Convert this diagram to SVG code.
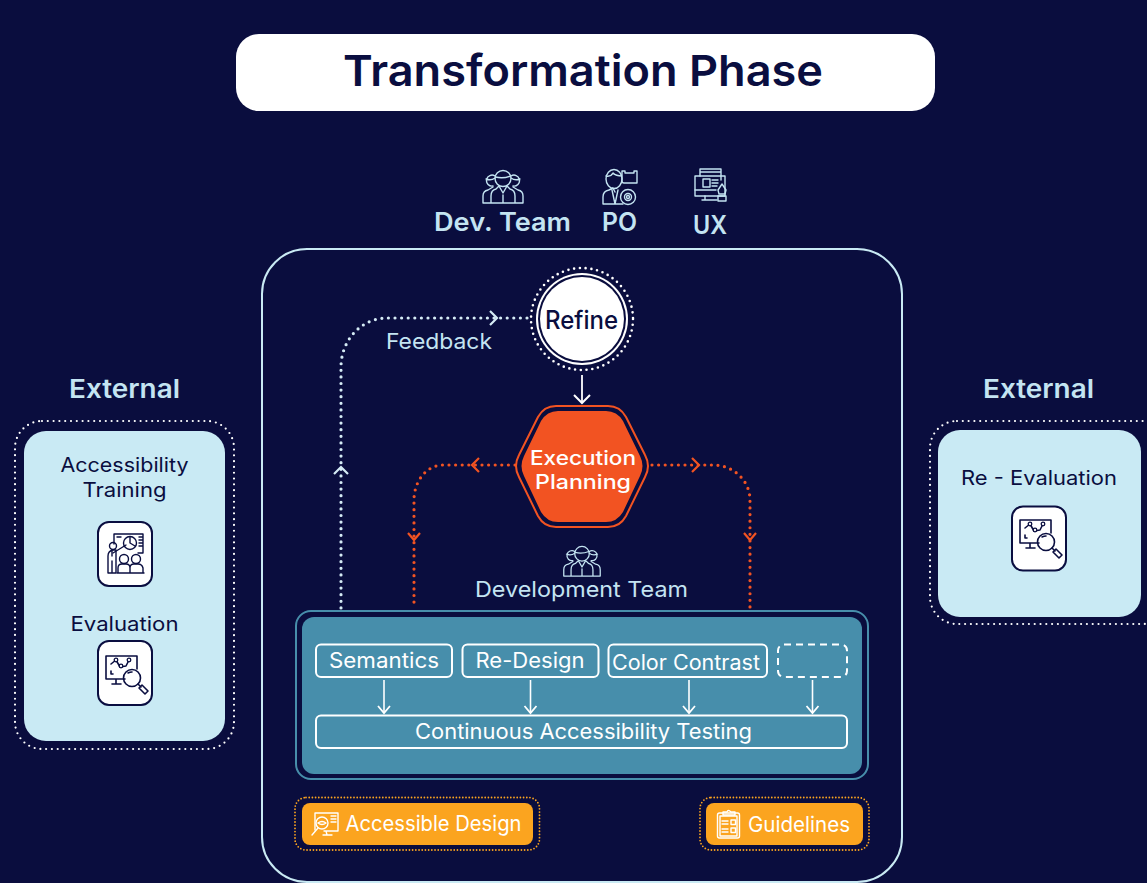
<svg xmlns="http://www.w3.org/2000/svg" width="1147" height="883" viewBox="0 0 1147 883">
<style>
text{font-family:"Inter","Noto Sans","Liberation Sans",sans-serif;text-anchor:middle;font-weight:500}
.lb{fill:#c4e4f2}.nv{fill:#0a0e40}.wh{fill:#fff}.sb{font-weight:600}.rg{font-weight:400}
.dotw{fill:none;stroke:#fff;stroke-width:2.6;stroke-linecap:round;stroke-dasharray:0 5.8}
.dotf{fill:none;stroke:#d5ebf5;stroke-width:3.2;stroke-linecap:round;stroke-dasharray:0 6.6}
.doto{fill:none;stroke:#f25322;stroke-width:3.2;stroke-linecap:round;stroke-dasharray:0 6.6}
.doty{fill:none;stroke:#fba41f;stroke-width:1.8;stroke-linecap:round;stroke-dasharray:0 3.2}
.chf{fill:none;stroke:#d5ebf5;stroke-width:2.2}.cho{fill:none;stroke:#f25322;stroke-width:2.2}
.sol{fill:none;stroke:#fff;stroke-width:1.6}
.bx{fill:none;stroke:#fff;stroke-width:2}
.tile{fill:#fff;stroke:#0a0e40;stroke-width:2}
.ic{fill:none;stroke-width:1.4;stroke-linecap:round;stroke-linejoin:round}
.icl{stroke:#c4e4f2}.icn{stroke:#0a0e40}.icw{stroke:#fff}
</style>
<defs>
<marker id="ah" markerUnits="userSpaceOnUse" markerWidth="20" markerHeight="16" refX="10" refY="8" orient="auto"><path d="M3 2L10 8L3 14" fill="none" stroke="#fff" stroke-width="1.8"/></marker>
<marker id="ahb" markerUnits="userSpaceOnUse" markerWidth="20" markerHeight="20" refX="10" refY="10" orient="auto"><path d="M2 2L10 10L2 18" fill="none" stroke="#fff" stroke-width="2"/></marker>
<symbol id="team" viewBox="0 0 42 34" overflow="visible">
<g fill="none" stroke-width="1.4" stroke-linecap="round" stroke-linejoin="round">
<circle cx="21" cy="8.500" r="8"/><path d="M13.500 7q7.500 2 15-1"/>
<path d="M13 6a5.500 5.500 0 1 0-2 10M29 6a5.500 5.500 0 1 1 2 10M4 9q5 2 9-1M38 9q-5 2-9-1"/>
<path d="M1 33v-7q0-5 5-6l5-3M41 33v-7q0-5-5-6l-5-3M9 33v-7q0-6 5-7l3-3 4 7 4-7 3 3q5 1 5 7v7zM21 25v8M1 33h8M33 33h8"/>
</g></symbol>
<symbol id="evalic" viewBox="0 0 38 38" overflow="visible">
<g fill="none" stroke="#0a0e40" stroke-width="1.6" stroke-linecap="round" stroke-linejoin="round">
<path d="M19 23H0V0h31v13M10 23v5M6 28h9"/><circle cx="26" cy="22" r="8.500"/><path d="M32 28l3 3M33 32l3-3 6 6-3 3zM22 17q2-1 4-1"/>
<path d="M5 8l5-4 4 7 6-1 3-6M5 15v3h2"/>
</g><g fill="#fff" stroke="#0a0e40" stroke-width="1.300"><circle cx="10" cy="4" r="1.800"/><circle cx="15" cy="10" r="1.800"/><circle cx="23" cy="4" r="1.800"/></g></symbol>
</defs>
<rect width="1147" height="883" fill="#0a0d3e"/>

<g id="title"><rect x="236" y="34" width="699" height="77" rx="23" fill="#fff"/>
<text class="nv" x="583" y="86" font-size="43" style="font-weight:600" textLength="480" lengthAdjust="spacingAndGlyphs">Transformation Phase</text></g>

<g id="roles">
<use href="#team" x="482" y="170" width="42" height="34" stroke="#c4e4f2"/>
<text class="lb sb" x="502.500" y="231" font-size="25" textLength="137" lengthAdjust="spacingAndGlyphs">Dev. Team</text>
<g class="ic icl"><ellipse cx="614" cy="179" rx="8" ry="9.500"/><path d="M606 176q5 1 7-3 3 3 9 3M603 204v-7q0-6 6-7l4-2 2 4M603 204h20M612 190l3 14 3-14M625 173v-2h-3v10q0 2 2 2h13v-12h-3v2h-9"/><circle cx="628" cy="197" r="7.500"/><circle cx="628" cy="197" r="3.500"/><circle cx="628" cy="197" r="1.500"/></g>
<text class="lb sb" x="619.500" y="231" font-size="25" textLength="35" lengthAdjust="spacingAndGlyphs">PO</text>
<g class="ic icl"><rect x="695" y="176" width="30" height="20"/><path d="M700 176v-7h21v11M700 172h21M705 196v4h-3h15M695 190h21"/><rect x="703" y="179" width="7" height="8"/><path d="M712 180h6M712 183h6M712 186h5M722 184l-4 6 1 4h6l1-4zM718 196h8v5h-8z"/></g>
<text class="lb sb" x="710" y="234" font-size="25" textLength="34" lengthAdjust="spacingAndGlyphs">UX</text>
</g>

<g id="phase-frame"><rect x="262" y="249" width="640" height="633" rx="45" fill="none" stroke="#c9eaf4" stroke-width="2"/></g>

<g id="refine">
<circle class="dotw" cx="582" cy="319" r="51"/>
<circle cx="582" cy="319" r="46" fill="#fff"/><circle cx="582" cy="319" r="44" fill="#0a0d3e"/><circle cx="582" cy="319" r="42" fill="#fff"/>
<text class="nv" x="581.500" y="328.500" font-size="25" textLength="73" lengthAdjust="spacingAndGlyphs">Refine</text></g>

<g id="execution-planning">
<path d="M556 406H608Q620 406 626 417L645 455Q651 466 645 477L626 516Q620 527 608 527H556Q544 527 538 516L519 477Q513 466 519 455L538 417Q544 406 556 406Z" fill="none" stroke="#f25322" stroke-width="2"/>
<path d="M558 411H606Q617 411 623 421L640 456Q645 466 640 476L623 512Q617 522 606 522H558Q547 522 541 512L524 476Q519 466 524 456L541 421Q547 411 558 411Z" fill="#f25322"/>
<text class="wh" x="583" y="465" font-size="19.800" textLength="106" lengthAdjust="spacingAndGlyphs">Execution</text>
<text class="wh" x="583" y="489" font-size="19.800" textLength="96" lengthAdjust="spacingAndGlyphs">Planning</text></g>

<g id="feedback-label"><text class="lb rg" x="439" y="349" font-size="22" textLength="106" lengthAdjust="spacingAndGlyphs">Feedback</text></g>

<g id="development-team">
<use href="#team" x="562" y="546" width="40" height="31" stroke="#c4e4f2"/>
<text class="lb rg" x="581.500" y="597" font-size="22" textLength="213" lengthAdjust="spacingAndGlyphs">Development Team</text></g>

<g id="work-panel">
<rect x="296" y="611" width="572" height="168" rx="15" fill="none" stroke="#478eab" stroke-width="2"/>
<rect x="302" y="617" width="560" height="157" rx="12" fill="#478eab"/></g>
<g id="semantics"><rect class="bx" x="316" y="644.500" width="136" height="32.500" rx="5"/><text class="wh rg" x="384" y="668" font-size="21" textLength="110" lengthAdjust="spacingAndGlyphs">Semantics</text></g>
<g id="re-design"><rect class="bx" x="462.500" y="644.500" width="136" height="32.500" rx="5"/><text class="wh rg" x="530" y="668" font-size="21" textLength="109" lengthAdjust="spacingAndGlyphs">Re-Design</text></g>
<g id="color-contrast"><rect class="bx" x="608.500" y="644.500" width="158.500" height="32.500" rx="5"/><text class="wh rg" x="686" y="670" font-size="21" textLength="148" lengthAdjust="spacingAndGlyphs">Color Contrast</text></g>
<g id="placeholder"><rect class="bx" x="778" y="644.500" width="69" height="32.500" rx="6" stroke-dasharray="7 5"/></g>
<g id="continuous-testing"><rect class="bx" x="316" y="715.500" width="531" height="32.500" rx="5"/><text class="wh rg" x="583.500" y="739" font-size="21" textLength="337" lengthAdjust="spacingAndGlyphs">Continuous Accessibility Testing</text></g>

<g id="connectors">
<path class="dotf" d="M527 318H387A46 49 0 0 0 341 367V608"/>
<path class="chf" d="M490 311L497 318L490 325"/><path class="chf" d="M334 474L341 467L348 474"/>
<path class="doto" d="M515 465H443A29 35 0 0 0 414 500V607"/>
<path class="cho" d="M479 458L472 465L479 472"/><path class="cho" d="M408 533L414 540L420 533"/>
<path class="doto" d="M652 465H713A37 35 0 0 1 750 500V607"/>
<path class="cho" d="M692 458L699 465L692 472"/><path class="cho" d="M744 533L750 540L756 533"/>
<path class="sol" d="M582 375V403" marker-end="url(#ahb)" style="stroke-width:1.800"/>
<path class="sol" d="M384 680V713" marker-end="url(#ah)"/>
<path class="sol" d="M530.500 680V713" marker-end="url(#ah)"/>
<path class="sol" d="M689 680V713" marker-end="url(#ah)"/>
<path class="sol" d="M812.500 680V713" marker-end="url(#ah)"/>
</g>

<g id="accessible-design">
<rect class="doty" x="295" y="797.500" width="244.500" height="52.500" rx="11"/>
<rect x="302" y="803" width="231" height="42" rx="8" fill="#fba41f"/>
<g class="ic icw"><path d="M315 830v-17h23v18h-14M326 831l1 4h-4h9M331 816h5M331 819h5M331 822h5"/><circle cx="322" cy="823" r="6"/><path d="M318 828l-6 7M318 823q4-3 8 0q-4 3-8 0"/></g>
<text class="wh rg" x="433.500" y="831" font-size="21" textLength="176" lengthAdjust="spacingAndGlyphs">Accessible Design</text></g>

<g id="guidelines">
<rect class="doty" x="700" y="797.500" width="169" height="52.500" rx="11"/>
<rect x="706" y="803" width="157" height="42" rx="8" fill="#fba41f"/>
<g class="ic icw"><rect x="717.500" y="813" width="22" height="25" rx="2"/><rect x="720" y="816" width="17" height="20"/><path d="M723 815v-3h4q1-3 4 0h4v3zM722 821h6M722 824h6M722 829h6M722 832h6"/><rect x="731" y="820" width="4.500" height="4.500"/><rect x="731" y="828" width="4.500" height="4.500"/></g>
<text class="wh rg" x="799" y="832" font-size="21" textLength="102" lengthAdjust="spacingAndGlyphs">Guidelines</text></g>

<g id="external-left">
<text class="lb sb" x="124.500" y="398" font-size="26" textLength="111" lengthAdjust="spacingAndGlyphs">External</text>
<rect class="dotw" x="15" y="421" width="219" height="328" rx="27" style="stroke-width:2.200"/>
<rect x="24" y="431" width="201" height="310" rx="22" fill="#c9eaf4"/>
<text class="nv rg" x="124.500" y="472" font-size="20" textLength="128" lengthAdjust="spacingAndGlyphs">Accessibility</text>
<text class="nv rg" x="124.500" y="497" font-size="20" textLength="84" lengthAdjust="spacingAndGlyphs">Training</text>
<rect class="tile" x="98" y="522" width="54" height="64" rx="11"/>
<g class="ic icn"><path d="M114 544v-10h29v19h-5M139 537h4M139 540h4M139 543h4M139 546h4M117 537h4"/><circle cx="130" cy="543" r="6.500"/><path d="M130 537v6l5 3M113 553l13-8"/><circle cx="113" cy="546" r="3.500"/><path d="M108 573v-17q0-5 5-6h3v23zM112 573v-12M112 550v6"/><circle cx="124" cy="559" r="4.500"/><circle cx="136" cy="559" r="4.500"/><path d="M118 573v-5q0-4 4-4h4q4 0 4 4v5M130 573v-5q0-4 4-4h4q4 0 5 4v5M117 573h27"/></g>
<text class="nv rg" x="124.500" y="631" font-size="20" textLength="108" lengthAdjust="spacingAndGlyphs">Evaluation</text>
<rect class="tile" x="98" y="641" width="54" height="64" rx="11"/>
<use href="#evalic" x="106" y="656" width="38" height="38"/>
</g>

<g id="external-right">
<text class="lb sb" x="1038.500" y="398" font-size="26" textLength="111" lengthAdjust="spacingAndGlyphs">External</text>
<rect class="dotw" x="930" y="421" width="240" height="203" rx="27" style="stroke-width:2.200"/>
<rect x="938" y="430" width="203" height="187" rx="22" fill="#c9eaf4"/>
<text class="nv rg" x="1039" y="485" font-size="20" textLength="156" lengthAdjust="spacingAndGlyphs">Re - Evaluation</text>
<rect class="tile" x="1012" y="506.500" width="54" height="64" rx="11"/>
<use href="#evalic" x="1020" y="520" width="38" height="38"/>
</g>
</svg>
